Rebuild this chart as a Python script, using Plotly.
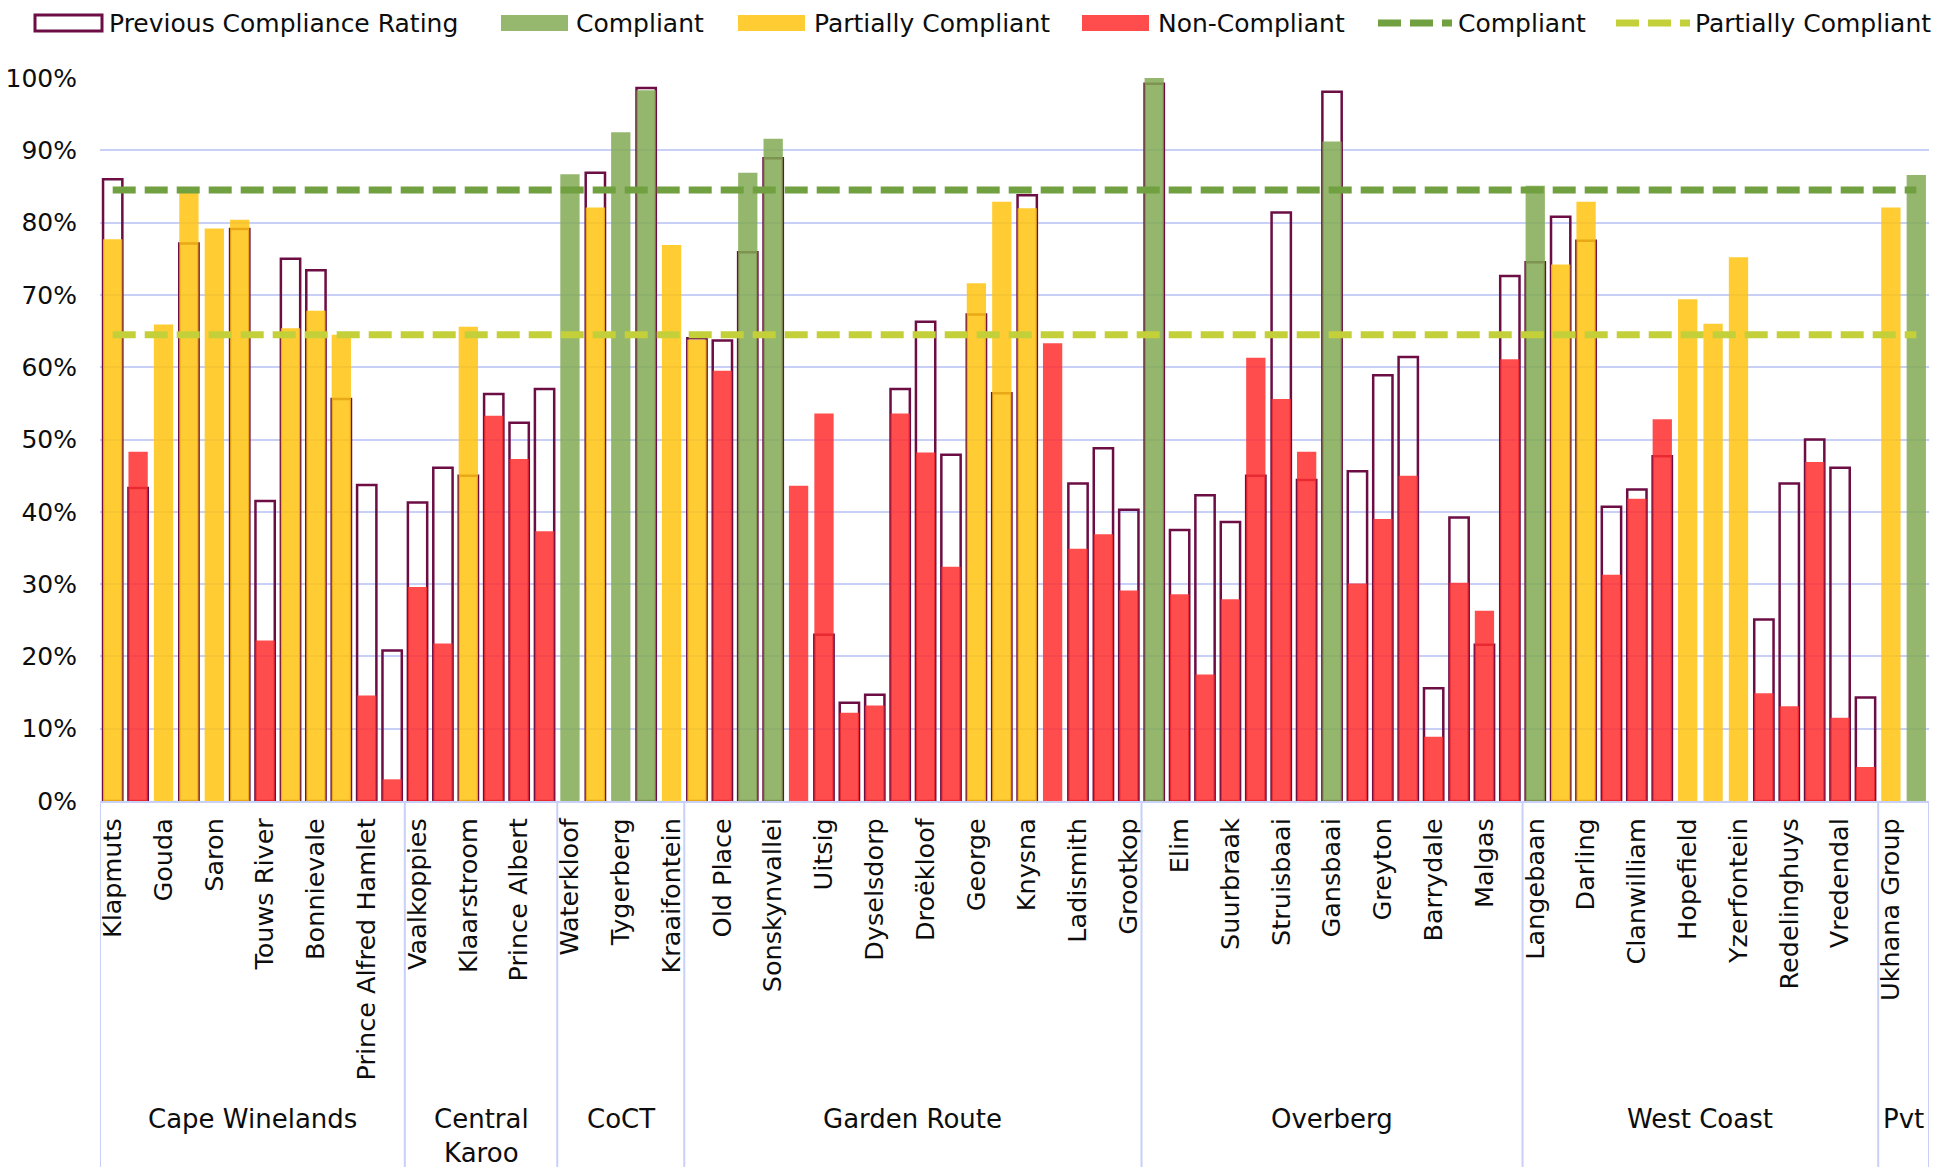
import plotly.graph_objects as go

# Treatment works (only every second name is printed on the axis)
sites = [
    "Klapmuts", "", "Gouda", "", "Saron", "", "Touws River", "", "Bonnievale", "",
    "Prince Alfred Hamlet", "",
    "Vaalkoppies", "", "Klaarstroom", "", "Prince Albert", "",
    "Waterkloof", "", "Tygerberg", "", "Kraaifontein",
    "", "Old Place", "", "Sonskynvallei", "", "Uitsig", "", "Dyselsdorp", "",
    "Droëkloof", "", "George", "", "Knysna", "", "Ladismith", "", "Grootkop",
    "", "Elim", "", "Suurbraak", "", "Struisbaai", "", "Gansbaai", "", "Greyton", "",
    "Barrydale", "", "Malgas", "",
    "Langebaan", "", "Darling", "", "Clanwilliam", "", "Hopefield", "", "Yzerfontein", "",
    "Redelinghuys", "", "Vredendal", "",
    "Ukhana Group", "",
]

regions = ["Cape Winelands", "Central<br>Karoo", "CoCT", "Garden Route", "Overberg", "West Coast", "Pvt"]
region_sizes = [12, 6, 5, 18, 15, 14, 2]

# Current compliance rating (%)
current = [
    77.7, 48.3, 65.9, 84.1, 79.2, 80.4, 22.2, 65.4, 67.8, 64.5, 14.6, 3.0,
    29.6, 21.8, 65.6, 53.3, 47.3, 37.3,
    86.7, 82.1, 92.5, 98.3, 76.9,
    63.8, 59.5, 86.9, 91.6, 43.6, 53.6, 12.2, 13.2, 53.6, 48.2, 32.4, 71.6, 82.9, 82.0, 63.3, 34.9, 36.9, 29.1,
    100.0, 28.6, 17.5, 27.9, 61.3, 55.6, 48.3, 91.2, 30.1, 39.0, 45.0, 8.9, 30.2, 26.3, 61.1,
    85.1, 74.2, 82.9, 31.3, 41.8, 52.8, 69.4, 66.0, 75.2, 14.9, 13.1, 46.9, 11.5, 4.7,
    82.1, 86.6,
]

# Compliance class of the current rating: C = Compliant, P = Partially, N = Non-Compliant
status = [
    "P", "N", "P", "P", "P", "P", "N", "P", "P", "P", "N", "N",
    "N", "N", "P", "N", "N", "N",
    "C", "P", "C", "C", "P",
    "P", "N", "C", "C", "N", "N", "N", "N", "N", "N", "N", "P", "P", "P", "N", "N", "N", "N",
    "C", "N", "N", "N", "N", "N", "N", "C", "N", "N", "N", "N", "N", "N", "N",
    "C", "P", "P", "N", "N", "N", "P", "P", "P", "N", "N", "N", "N", "N",
    "P", "C",
]

# Previous compliance rating (%); None where no earlier rating exists
previous = [
    86.0, 43.3, None, 77.1, None, 79.1, 41.5, 75.0, 73.4, 55.6, 43.7, 20.8,
    41.3, 46.1, 45.0, 56.3, 52.3, 57.0,
    None, 86.9, None, 98.6, None,
    64.0, 63.7, 75.9, 88.9, None, 23.0, 13.6, 14.7, 57.0, 66.3, 47.9, 67.3, 56.4, 83.8, None, 43.9, 48.8, 40.3,
    99.2, 37.5, 42.3, 38.6, 45.0, 81.4, 44.4, 98.1, 45.6, 58.9, 61.4, 15.6, 39.2, 21.6, 72.6,
    74.5, 80.8, 77.5, 40.7, 43.1, 47.7, None, None, None, 25.1, 43.9, 50.0, 46.1, 14.3,
    None, None,
]

compliant_target = 84.5
partial_target = 64.5

# Styling
FONT = "DejaVu Sans"
TXT = "#0d0d0d"
GRID = "#C8D0F8"
MAROON = "#6C0E44"
GREEN = "rgba(131,170,84,0.85)"
YELLOW = "rgba(255,195,15,0.85)"
RED = "rgba(255,46,46,0.85)"
GREEN_SOLID = "#96B76E"
YELLOW_SOLID = "#FFCC33"
RED_SOLID = "#FF4D4D"
LINE_GREEN = "#70A040"
LINE_YELLOW = "#C4D03A"

W, H = 1941, 1167
ML, MR, MT, MB = 100, 12, 78, 366
PW, PH = W - ML - MR, H - MT - MB

n = len(sites)
xs = list(range(n))
BAR_W = 0.76


def px_x(px):
    return (px - ML) / PW


def px_y(py):
    return (MT + PH - py) / PH


fig = go.Figure()

fig.add_trace(go.Bar(
    x=xs, y=previous, width=BAR_W, name="Previous Compliance Rating",
    marker=dict(color="rgba(0,0,0,0)", line=dict(color=MAROON, width=2.5)),
    showlegend=False,
))

for code, col, name in [("C", GREEN, "Compliant"), ("P", YELLOW, "Partially Compliant"),
                        ("N", RED, "Non-Compliant")]:
    ys = [v if s == code else None for v, s in zip(current, status)]
    fig.add_trace(go.Bar(
        x=xs, y=ys, width=BAR_W, name=name,
        marker=dict(color=col, line=dict(width=0)),
        showlegend=False,
    ))

for val, col, name in [(compliant_target, LINE_GREEN, "Compliant"),
                       (partial_target, LINE_YELLOW, "Partially Compliant")]:
    fig.add_trace(go.Scatter(
        x=xs, y=[val] * n, mode="lines", name=name,
        line=dict(color=col, width=7, dash="23px,9px"),
        showlegend=False,
    ))

shapes = []
annotations = []

# Region separators below the axis and region names
bounds = [-0.5]
for size in region_sizes:
    bounds.append(bounds[-1] + size)
for b in bounds:
    shapes.append(dict(type="line", xref="x", yref="paper", x0=b, x1=b,
                       y0=0, y1=px_y(H + 2), line=dict(color=GRID, width=2)))
for name, a, b in zip(regions, bounds[:-1], bounds[1:]):
    annotations.append(dict(text=name, xref="x", yref="paper", x=(a + b) / 2, y=px_y(1102),
                            xanchor="center", yanchor="top", showarrow=False,
                            font=dict(family=FONT, size=26, color=TXT)))

# Legend row
LY = 23
LEG_FONT = 25
legend_boxes = [
    (35, "white", MAROON, "Previous Compliance Rating", 107),
    (501, GREEN_SOLID, None, "Compliant", 574),
    (738, YELLOW_SOLID, None, "Partially Compliant", 812),
    (1082, RED_SOLID, None, "Non-Compliant", 1156),
]
for x0, fill, edge, label, tx in legend_boxes:
    shapes.append(dict(type="rect", xref="paper", yref="paper",
                       x0=px_x(x0), x1=px_x(x0 + 67), y0=px_y(LY - 8), y1=px_y(LY + 8),
                       fillcolor=fill,
                       line=dict(color=edge if edge else fill, width=3 if edge else 0)))
    annotations.append(dict(text=label, xref="paper", yref="paper", x=px_x(tx), y=px_y(LY),
                            xanchor="left", yanchor="middle", showarrow=False,
                            font=dict(family=FONT, size=LEG_FONT, color=TXT)))
for x0, col, label, tx in [(1378, LINE_GREEN, "Compliant", 1456),
                           (1616, LINE_YELLOW, "Partially Compliant", 1693)]:
    shapes.append(dict(type="line", xref="paper", yref="paper",
                       x0=px_x(x0), x1=px_x(x0 + 74), y0=px_y(LY), y1=px_y(LY),
                       line=dict(color=col, width=7, dash="23px,9px")))
    annotations.append(dict(text=label, xref="paper", yref="paper", x=px_x(tx), y=px_y(LY),
                            xanchor="left", yanchor="middle", showarrow=False,
                            font=dict(family=FONT, size=LEG_FONT, color=TXT)))

tick_idx = [i for i, s in enumerate(sites) if s]
tick_txt = [sites[i] for i in tick_idx]

fig.update_layout(
    width=W, height=H,
    margin=dict(l=ML, r=MR, t=MT, b=MB, pad=0, autoexpand=False),
    paper_bgcolor="white", plot_bgcolor="white",
    barmode="overlay",
    showlegend=False,
    font=dict(family=FONT, size=26, color=TXT),
    shapes=shapes,
    annotations=annotations,
    xaxis=dict(
        range=[-0.5, n - 0.5], tickmode="array", tickvals=tick_idx, ticktext=tick_txt,
        tickangle=-90, tickfont=dict(family=FONT, size=25.5, color=TXT),
        showgrid=False, zeroline=False, showline=True, linecolor=GRID, linewidth=2,
        ticks="", ticklabelstandoff=5, automargin=False,
    ),
    yaxis=dict(
        range=[0, 100], tickmode="linear", tick0=0, dtick=10, ticksuffix="%",
        tickfont=dict(family=FONT, size=25, color=TXT),
        showgrid=True, gridcolor=GRID, gridwidth=2, zeroline=False, showline=False,
        ticks="", ticklabelstandoff=22, automargin=False,
    ),
)

fig.write_html("out.html")
